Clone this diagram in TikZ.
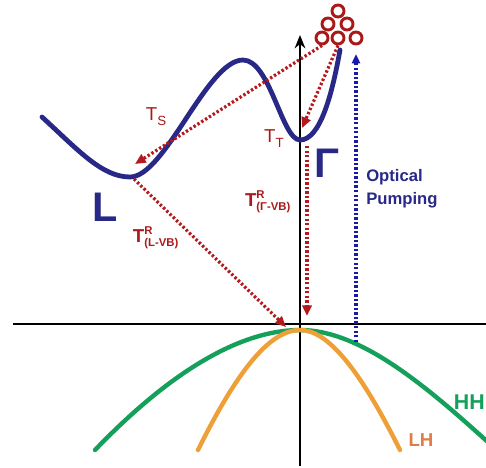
\documentclass[tikz,border=0pt]{standalone}
\usepackage{fontspec}
\setmainfont{Liberation Sans}
\usetikzlibrary{arrows.meta}
\definecolor{navy}{RGB}{40,40,135}
\definecolor{trred}{RGB}{180,25,30}
\definecolor{lblred}{RGB}{170,25,25}
\definecolor{pump}{RGB}{25,25,170}
\definecolor{hhgreen}{RGB}{20,160,90}
\definecolor{lhorange}{RGB}{238,160,55}
\definecolor{lhtext}{RGB}{222,125,70}
\newcommand{\smallbf}[1]{\mbox{\bfseries\fontsize{8.5}{9}\selectfont #1}}
\newcommand{\trtext}[1]{$\mbox{T}^{\smallbf{R}}_{\smallbf{#1}}$}
\tikzset{
  x=0.75pt, y=-0.75pt,
  axis/.style={line width=2.2pt, black},
  band/.style={line width=3.3pt, line cap=round},
  trans/.style={trred, line width=2.4pt, dash pattern=on 1.8pt off 1.6pt,
     -{Triangle[length=8pt,width=7pt]}},
  pumparrow/.style={pump, line width=2.4pt, dash pattern=on 1.8pt off 1.6pt,
     -{Triangle[length=7pt,width=6pt]}},
  carrier/.style={circle, draw=lblred, line width=2.2pt, minimum size=9pt, inner sep=0pt},
  tlabel/.style={text=lblred, font=\fontsize{14}{16}\selectfont},
  trlabel/.style={text=lblred, font=\bfseries\fontsize{14}{16}\selectfont},
  bigsym/.style={text=navy, font=\bfseries\fontsize{31}{34}\selectfont, inner sep=0pt},
}
\begin{document}
\begin{tikzpicture}
\useasboundingbox (0,0) rectangle (486,468);
\clip (0,0) rectangle (486,468);
% axes
\coordinate (ybot) at (300,466);
\coordinate (ytop) at (300,35);
\coordinate (xl) at (13,324);
\coordinate (xr) at (486,324);
\draw[axis] (xl) -- (xr);
\draw[axis, -{Stealth[length=10pt,width=8pt]}] (ybot) -- (ytop);
% valence bands
\draw[band, hhgreen] (95,450) .. controls (170,372) and (240,330) .. (300,330)
   .. controls (360,330) and (425,385) .. (490,444);
\draw[band, lhorange] (198,450) .. controls (240,365) and (272,330) .. (300,330)
   .. controls (328,330) and (360,370) .. (400,450);
% conduction band
\coordinate (Lmin) at (130,177);
\coordinate (Gmin) at (300,140);
\draw[band, navy, line width=3.6pt] (42,117) .. controls (78,150) and (102,177) .. (Lmin)
   .. controls (165,177) and (207,60) .. (243,60)
   .. controls (270,60) and (282,140) .. (Gmin)
   .. controls (320,140) and (332,95) .. (340,50);
% carriers
\node[carrier] (c1) at (338,11) {};
\node[carrier] (c2) at (328,24) {};
\node[carrier] (c3) at (347,24) {};
\node[carrier] (c4) at (322,38) {};
\node[carrier] (c5) at (338,38) {};
\node[carrier] (c6) at (356,38) {};
% transitions
\coordinate (TsEnd) at (135,164);
\coordinate (TtEnd) at (302,128);
\coordinate (GvbStart) at (307,146);
\coordinate (GvbEnd) at (307,316);
\coordinate (LvbStart) at (134,179);
\coordinate (LvbEnd) at (286,327);
\coordinate (PumpStart) at (356,342);
\coordinate (PumpEnd) at (356,54);
\draw[trans] (c4.south) -- (TsEnd);
\draw[trans] (c5.south) -- (TtEnd);
\draw[trans] (GvbStart) -- (GvbEnd);
\draw[trans] (LvbStart) -- (LvbEnd);
\draw[pumparrow] (PumpStart) -- (PumpEnd);
% labels
\node[tlabel] (ts) at (156,117) {T\raisebox{-0.5ex}{\fontsize{10}{11}\selectfont S}};
\node[tlabel] (tt) at (274,139) {T\raisebox{-0.5ex}{\fontsize{10}{11}\selectfont T}};
\node[trlabel] (tgvb) at (268,202) {\trtext{(Γ-VB)}};
\node[trlabel] (tlvb) at (156,238) {\trtext{(L-VB)}};
\node[bigsym] (Llbl) at (105,207) {L};
\node[bigsym] (Glbl) at (327,163) {Γ};
\node[anchor=west, text=navy, font=\bfseries\fontsize{12.5}{17.5}\selectfont, align=left, inner sep=0pt] (op) at (366,189) {Optical\\Pumping};
\node[anchor=east, text=hhgreen, font=\bfseries\fontsize{16}{18}\selectfont, inner sep=0pt] (hh) at (485,402) {HH};
\node[text=lhtext, font=\bfseries\fontsize{14}{16}\selectfont, inner sep=0pt] (lh) at (421,440) {LH};
\end{tikzpicture}
\end{document}
